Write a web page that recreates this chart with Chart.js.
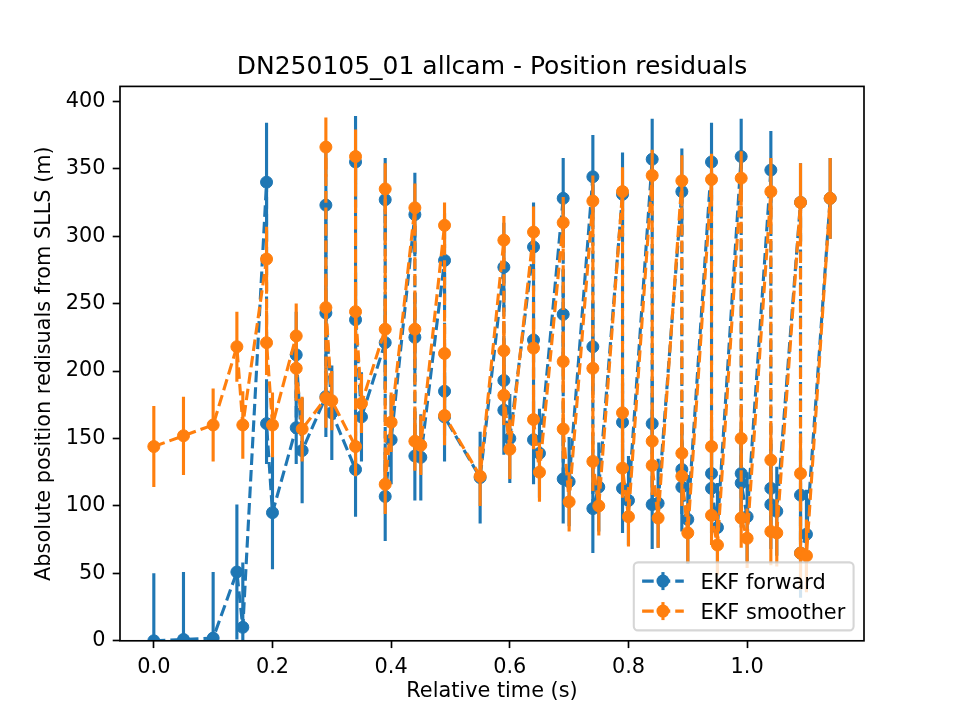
<!DOCTYPE html>
<html><head><meta charset="utf-8">
<script src="https://cdn.jsdelivr.net/npm/chart.js@4.4.1/dist/chart.umd.min.js"></script>
<style>html,body{margin:0;padding:0;background:#fff;} canvas{display:block;}</style>
</head><body>
<canvas id="c" width="960" height="720" style="width:960px;height:720px"></canvas>
<script>
// ---------------- data ----------------
const times = [
  0.00, 0.05, 0.10, 0.14, 0.15,
  0.19, 0.19, 0.20,
  0.24, 0.24, 0.25,
  0.29, 0.29, 0.29, 0.30,
  0.34, 0.34, 0.34, 0.35,
  0.39, 0.39, 0.39, 0.40,
  0.44, 0.44, 0.44, 0.45,
  0.49, 0.49, 0.49,
  0.55,
  0.59, 0.59, 0.59, 0.60,
  0.64, 0.64, 0.64, 0.65,
  0.69, 0.69, 0.69, 0.70,
  0.74, 0.74, 0.74, 0.75,
  0.79, 0.79, 0.79, 0.80,
  0.84, 0.84, 0.84, 0.85,
  0.89, 0.89, 0.89, 0.90,
  0.94, 0.94, 0.94, 0.95,
  0.99, 0.99, 0.99, 1.00,
  1.04, 1.04, 1.04, 1.05,
  1.09, 1.09, 1.09, 1.10,
  1.14
];
const forwardValues = [
  0, 1, 2, 51, 10,
  340, 161, 95,
  158, 212, 141,
  181, 323, 243, 169,
  127, 355, 238, 166,
  221, 327, 107, 149,
  316, 225, 137, 136,
  282, 185, 166,
  121,
  277, 193, 171, 150,
  292, 223, 149, 139,
  328, 242, 120, 118,
  344, 218, 98, 114,
  331, 162, 113, 104,
  357, 161, 101, 102,
  333, 127, 114, 90,
  355, 124, 113, 84,
  359, 124, 117, 92,
  349, 113, 101, 96,
  325, 108, 65, 79,
  328
];
const forwardErrors = [
  50, 50, 49, 50, 48,
  44, 30, 42,
  27, 32, 39,
  30, 40, 35, 35,
  35, 34, 35, 33,
  35, 31, 33, 33,
  31, 33, 33, 32,
  35, 33, 33,
  34,
  33, 33, 33, 33,
  33, 33, 33, 33,
  30, 33, 33, 33,
  31, 33, 33, 33,
  31, 33, 33, 33,
  30, 33, 33, 33,
  32, 33, 33, 33,
  29, 33, 33, 33,
  28, 33, 33, 33,
  29, 33, 33, 33,
  29, 33, 33, 33,
  30
];
const smootherValues = [
  144, 152, 160, 218, 160,
  283, 221, 160,
  226, 202, 157,
  180, 366, 247, 178,
  144, 359, 244, 176,
  231, 335, 116, 162,
  321, 231, 148, 145,
  308, 213, 167,
  122,
  297, 215, 182, 142,
  303, 217, 164, 125,
  310, 207, 157, 103,
  326, 202, 133, 100,
  333, 169, 128, 92,
  345, 148, 130, 91,
  341, 139, 122, 80,
  342, 144, 93, 71,
  343, 150, 91, 76,
  333, 134, 81, 80,
  325, 124, 65, 63,
  328
];
const smootherErrors = [
  30, 29, 27, 26, 25,
  24, 24, 24,
  24, 24, 24,
  22, 22, 22, 22,
  22, 20, 22, 22,
  22, 19, 22, 22,
  18, 22, 22, 22,
  17, 22, 22,
  22,
  18, 22, 22, 22,
  19, 22, 22, 22,
  19, 22, 22, 22,
  19, 22, 22, 22,
  18, 22, 22, 22,
  19, 22, 22, 22,
  19, 22, 22, 22,
  19, 22, 22, 22,
  20, 22, 22, 22,
  25, 25, 25, 25,
  29, 27, 27, 27,
  30
];
const seriesNames = ['EKF forward', 'EKF smoother'];
const seriesColors = ['#1f77b4', '#ff7f0e'];
const xTickValues = [0.0, 0.2, 0.4, 0.6, 0.8, 1.0];
const yTickValues = [0, 50, 100, 150, 200, 250, 300, 350, 400];
const titleText = 'DN250105_01 allcam - Position residuals';
const xLabelText = 'Relative time (s)';
const yLabelText = 'Absolute position redisuals from SLLS (m)';

// ---------------- style ----------------
const PT = 150 / 72;
const FONT = 'DejaVu Sans';
const FS = 10 * PT;
const LW = 1.5 * PT;
const DASH = [3.7 * LW, 1.6 * LW];

function pts(vals) { return times.map((t, i) => ({x: t, y: vals[i]})); }

function makeDataset(idx, vals, errs, order) {
  return {
    label: seriesNames[idx],
    data: pts(vals),
    errors: errs,
    borderColor: seriesColors[idx],
    backgroundColor: seriesColors[idx],
    borderWidth: LW,
    borderDash: DASH,
    borderCapStyle: 'butt',
    borderJoinStyle: 'round',
    pointRadius: 6,
    pointBorderWidth: 1,
    pointBorderColor: seriesColors[idx],
    pointBackgroundColor: seriesColors[idx],
    pointHoverRadius: 6,
    tension: 0,
    fill: false,
    clip: 0,
    order: order
  };
}

const matplotPlugin = {
  id: 'matplot',
  beforeDatasetDraw(chart, args) {
    const ds = chart.data.datasets[args.index];
    const {ctx, chartArea: a, scales: {x, y}} = chart;
    ctx.save();
    ctx.beginPath();
    ctx.rect(a.left, a.top, a.right - a.left, a.bottom - a.top);
    ctx.clip();
    ctx.strokeStyle = ds.borderColor;
    ctx.lineWidth = LW;
    ctx.lineCap = 'butt';
    ds.data.forEach((p, i) => {
      const e = ds.errors[i];
      const px = x.getPixelForValue(p.x);
      ctx.beginPath();
      ctx.moveTo(px, y.getPixelForValue(p.y - e));
      ctx.lineTo(px, y.getPixelForValue(p.y + e));
      ctx.stroke();
    });
    ctx.restore();
  },
  afterDraw(chart) {
    const {ctx, chartArea: a} = chart;
    // frame
    ctx.save();
    ctx.strokeStyle = '#000';
    ctx.lineWidth = 0.8 * PT;
    ctx.strokeRect(a.left, a.top, a.right - a.left, a.bottom - a.top);
    // title
    ctx.fillStyle = '#000';
    ctx.font = (12 * PT) + 'px "' + FONT + '"';
    ctx.textAlign = 'center';
    ctx.textBaseline = 'alphabetic';
    ctx.fillText(titleText, (a.left + a.right) / 2, a.top - 6 * PT);
    // legend
    ctx.font = FS + 'px "' + FONT + '"';
    let tw = 0;
    seriesNames.forEach(n => { tw = Math.max(tw, ctx.measureText(n).width); });
    const w = 0.4 * FS * 2 + 2 * FS + 0.8 * FS + tw;
    const h = 68;
    const x0 = a.right - 0.5 * FS - w;
    const y0 = a.bottom - 0.5 * FS - h;
    ctx.beginPath();
    ctx.roundRect(x0, y0, w, h, 0.2 * FS);
    ctx.fillStyle = 'rgba(255,255,255,0.8)';
    ctx.fill();
    ctx.strokeStyle = 'rgba(204,204,204,0.8)';
    ctx.lineWidth = 1 * PT;
    ctx.stroke();
    const rows = [y0 + 18.7, y0 + 48.7];
    seriesNames.forEach((n, i) => {
      const cy = rows[i];
      const hx0 = x0 + 0.4 * FS, hx1 = hx0 + 2 * FS, hc = (hx0 + hx1) / 2;
      ctx.strokeStyle = seriesColors[i];
      ctx.fillStyle = seriesColors[i];
      ctx.lineWidth = LW;
      ctx.setLineDash(DASH);
      ctx.beginPath(); ctx.moveTo(hx0, cy); ctx.lineTo(hx1, cy); ctx.stroke();
      ctx.setLineDash([]);
      ctx.beginPath(); ctx.moveTo(hc, cy - 9); ctx.lineTo(hc, cy + 9); ctx.stroke();
      ctx.beginPath(); ctx.arc(hc, cy, 6.5, 0, Math.PI * 2); ctx.fill();
      ctx.fillStyle = '#000';
      ctx.textAlign = 'left';
      ctx.textBaseline = 'alphabetic';
      ctx.fillText(n, hx1 + 0.8 * FS, cy + 7.5);
    });
    ctx.restore();
  }
};

const tickFont = {family: FONT, size: FS};

new Chart(document.getElementById('c'), {
  type: 'line',
  data: {
    datasets: [
      makeDataset(0, forwardValues, forwardErrors, 1),
      makeDataset(1, smootherValues, smootherErrors, 0)
    ]
  },
  options: {
    responsive: false,
    animation: false,
    devicePixelRatio: 1,
    events: [],
    layout: {padding: {left: 0, right: 96, top: 86.4, bottom: 0}},
    plugins: {legend: {display: false}, title: {display: false}, tooltip: {enabled: false}},
    scales: {
      x: {
        type: 'linear',
        min: -0.057, max: 1.197,
        afterBuildTicks: s => { s.ticks = xTickValues.map(v => ({value: v})); },
        afterFit: s => { s.height = 720 - 640.8; },
        border: {display: false},
        grid: {display: true, drawOnChartArea: false, drawTicks: true, tickLength: 3.5 * PT, tickWidth: 0.8 * PT, tickColor: '#000'},
        ticks: {font: tickFont, color: '#000', padding: 3.5 * PT, autoSkip: false, maxRotation: 0,
                callback: v => Number(v).toFixed(1)},
        title: {display: true, text: xLabelText, color: '#000', font: {family: FONT, size: FS}, padding: {top: 0, bottom: 15.5}}
      },
      y: {
        type: 'linear',
        min: 0, max: 411,
        afterBuildTicks: s => { s.ticks = yTickValues.map(v => ({value: v})); },
        afterFit: s => { s.width = 120; },
        border: {display: false},
        grid: {display: true, drawOnChartArea: false, drawTicks: true, tickLength: 3.5 * PT, tickWidth: 0.8 * PT, tickColor: '#000'},
        ticks: {font: tickFont, color: '#000', padding: 3.5 * PT, callback: v => String(v)},
        title: {display: true, text: yLabelText, color: '#000', font: {family: FONT, size: FS}, padding: {top: 32.5, bottom: 0}}
      }
    }
  },
  plugins: [matplotPlugin]
});
</script>
</body></html>
